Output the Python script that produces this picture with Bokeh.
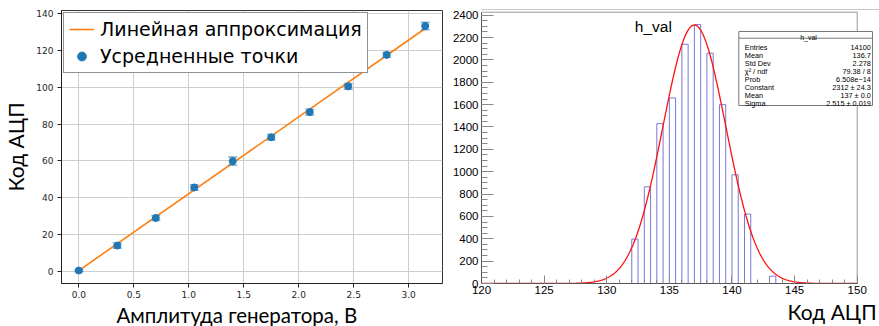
import numpy as np
from bokeh.plotting import figure
from bokeh.models import Range1d, FixedTicker, Legend, LegendItem, Label, Title
from bokeh.layouts import row
from bokeh.embed import file_html
from bokeh.resources import INLINE

# ---------------- data: left panel (calibration) ----------------
amplitude = [0.0, 0.35, 0.70, 1.05, 1.40, 1.75, 2.10, 2.45, 2.80, 3.15]
adc_mean = [0.3, 13.9, 28.9, 45.5, 59.8, 72.8, 86.5, 100.5, 117.6, 133.3]
adc_err = [0.6, 1.4, 1.3, 1.5, 2.2, 1.5, 1.5, 1.5, 1.3, 2.0]
fit_slope = 41.8
fit_intercept = 0.3
left_x_ticks = [0.0, 0.5, 1.0, 1.5, 2.0, 2.5, 3.0]
left_x_labels = ["0.0", "0.5", "1.0", "1.5", "2.0", "2.5", "3.0"]
left_y_ticks = [0, 20, 40, 60, 80, 100, 120, 140]

# ---------------- data: right panel (histogram h_val) ----------------
bin_left = [132, 133, 134, 135, 136, 137, 138, 139, 140, 141, 143]
bin_counts = [397, 865, 1430, 1660, 2140, 2316, 2060, 1600, 972, 621, 66]
bin_width = 0.5
gaus_constant = 2312.0
gaus_mean = 137.0
gaus_sigma = 2.515
right_x_ticks = [120, 125, 130, 135, 140, 145, 150]
right_y_ticks = [0, 200, 400, 600, 800, 1000, 1200, 1400, 1600, 1800, 2000, 2200, 2400]
stats_names = ["Entries", "Mean", "Std Dev", "\u03c7\u00b2 / ndf", "Prob", "Constant", "Mean", "Sigma"]
stats_values = ["14100", "136.7", "2.278", "79.38 / 8", "6.508e\u221214",
                "2312 \u00b1 24.3", "137 \u00b1 0.0", "2.515 \u00b1 0.019"]

# ---------------- left figure ----------------
X0, X1 = -0.1575, 3.3075
Y0, Y1 = -6.75, 141.75

p1 = figure(width=443, height=326, x_range=Range1d(X0, X1), y_range=Range1d(Y0, Y1),
            output_backend="svg", toolbar_location=None, title=None,
            min_border_left=56, min_border_right=1, min_border_top=10, min_border_bottom=42)
p1.frame_align = False
p1.background_fill_color = "white"
p1.border_fill_color = "white"
p1.outline_line_color = "#333333"
p1.outline_line_width = 1

for ax in (p1.xaxis[0], p1.yaxis[0]):
    ax.major_tick_out = 4
    ax.major_tick_in = 0
    ax.minor_tick_out = 0
    ax.minor_tick_in = 0
    ax.major_label_standoff = 4
    ax.major_label_text_font = "DejaVu Sans"
    ax.major_label_text_font_size = "9px"
    ax.major_label_text_color = "#262626"
    ax.axis_line_color = "#222222"
    ax.major_tick_line_color = "#222222"
p1.xaxis[0].major_label_standoff = 3
p1.xaxis[0].ticker = FixedTicker(ticks=left_x_ticks)
p1.xaxis[0].major_label_overrides = {t: s for t, s in zip(left_x_ticks, left_x_labels)}
p1.yaxis[0].ticker = FixedTicker(ticks=left_y_ticks)
p1.yaxis[0].axis_label = "Код АЦП"
p1.yaxis[0].axis_label_standoff = 5
p1.yaxis[0].axis_label_text_font = "Lato"
p1.yaxis[0].axis_label_text_font_size = "21px"
p1.yaxis[0].axis_label_text_font_style = "normal"
p1.yaxis[0].axis_label_text_color = "black"
p1.grid.grid_line_color = "#cdcdcd"
p1.grid.grid_line_width = 1

fit_x = [amplitude[0], amplitude[-1]]
fit_y = [fit_intercept + fit_slope * v for v in fit_x]
fit_r = p1.line(fit_x, fit_y, line_color="#ff7f0e", line_width=1.6)

lo = [m - e for m, e in zip(adc_mean, adc_err)]
hi = [m + e for m, e in zip(adc_mean, adc_err)]
p1.segment(x0=amplitude, y0=lo, x1=amplitude, y1=hi, line_color="#1f77b4",
           line_alpha=0.55, line_width=1.6)
p1.scatter(amplitude + amplitude, lo + hi, marker="dash", size=9,
           line_color="#1f77b4", line_alpha=0.55, line_width=1.6)
pts_r = p1.scatter(amplitude, adc_mean, marker="circle", size=7,
                   fill_color="#1f77b4", line_color="#1f77b4")

legend = Legend(items=[LegendItem(label="Линейная аппроксимация", renderers=[fit_r]),
                       LegendItem(label="Усредненные точки", renderers=[pts_r])],
                location="top_left", margin=2, padding=5, spacing=5,
                glyph_width=25, glyph_height=22, label_height=22, label_standoff=6,
                label_text_font="DejaVu Sans", label_text_font_size="19px",
                label_text_color="black",
                border_line_color="#222222", border_line_width=1,
                background_fill_color="white", background_fill_alpha=1.0)
p1.add_layout(legend)

p1.add_layout(Title(text="Амплитуда генератора, В", align="left", offset=55,
                    standoff=0, text_font="Lato", text_font_size="20.5px",
                    text_font_style="normal", text_color="black"), "below")

# ---------------- right figure ----------------
def rx(px):
    return 120 + (px - 481) * 30.0 / 375.7


def ry(py):
    return (283 - py) * 2400.0 / 268.3


X_END = rx(879)
Y_END = ry(0)
Y_TOP = ry(11.7)

p2 = figure(width=436, height=326, x_range=Range1d(120, X_END), y_range=Range1d(0, Y_END),
            output_backend="svg", toolbar_location=None, title=None,
            min_border_left=38, min_border_right=0, min_border_top=0, min_border_bottom=43)
p2.frame_align = False
p2.background_fill_color = "white"
p2.border_fill_color = "white"
p2.outline_line_color = None
p2.grid.visible = False

xa = p2.xaxis[0]
xa.ticker = FixedTicker(ticks=right_x_ticks, minor_ticks=list(range(120, 151)))
xa.bounds = (120, 150)
xa.major_tick_in = 8
xa.major_tick_out = 0
xa.minor_tick_in = 4
xa.minor_tick_out = 0
xa.major_label_standoff = 2
ya = p2.yaxis[0]
ya.ticker = FixedTicker(ticks=right_y_ticks, minor_ticks=list(range(0, 2401, 50)))
ya.bounds = (0, Y_TOP)
ya.major_tick_in = 12
ya.major_tick_out = 0
ya.minor_tick_in = 6
ya.minor_tick_out = 0
ya.major_label_standoff = 3
for ax in (xa, ya):
    ax.major_label_text_font = "Liberation Sans"
    ax.major_label_text_font_size = "11.5px"
    ax.major_label_text_color = "black"
    ax.axis_line_color = "#555555"
    ax.major_tick_line_color = "#888888"
    ax.minor_tick_line_color = "#888888"

bin_right = [b + bin_width for b in bin_left]
p2.quad(left=bin_left, right=bin_right, bottom=0, top=bin_counts,
        fill_color=None, line_color="#7878d6", line_width=1)

gx = np.linspace(120, 150, 600)
gy = gaus_constant * np.exp(-0.5 * ((gx - gaus_mean) / gaus_sigma) ** 2)
p2.line(gx, gy, line_color="#ff1010", line_width=1.3)

# frame top / right, and canvas border line above
p2.segment(x0=[120, 150], y0=[Y_TOP, 0], x1=[150, 150], y1=[Y_TOP, Y_TOP],
           line_color="#999999", line_width=1)
p2.segment(x0=[120], y0=[ry(9)], x1=[X_END], y1=[ry(9)],
           line_color="#c8c8c8", line_width=1)

p2.add_layout(Label(x=rx(634.3), y=ry(26), text="h_val", text_align="left",
                    text_baseline="alphabetic", text_font="Liberation Sans",
                    text_font_size="15.5px", text_color="black"))

# stats box
p2.quad(left=[rx(738.3)], right=[rx(872)], top=[ry(31)], bottom=[ry(105)],
        fill_color="white", line_color="#777777", line_width=1)
p2.segment(x0=[rx(738.3)], y0=[ry(37.7)], x1=[rx(872)], y1=[ry(37.7)],
           line_color="#777777", line_width=1)
p2.add_layout(Label(x=rx(808), y=ry(36.5), text="h_val", text_align="center",
                    text_baseline="alphabetic", text_font="Liberation Sans",
                    text_font_size="7px", text_color="black"))
for i, (nm, vl) in enumerate(zip(stats_names, stats_values)):
    yb = ry(46.5 + 8.1 * i)
    p2.add_layout(Label(x=rx(744.3), y=yb, text=nm, text_align="left",
                        text_baseline="alphabetic", text_font="Liberation Sans",
                        text_font_size="7.3px", text_color="black"))
    p2.add_layout(Label(x=rx(870.3), y=yb, text=vl, text_align="right",
                        text_baseline="alphabetic", text_font="Liberation Sans",
                        text_font_size="7.3px", text_color="black"))

p2.add_layout(Title(text="Код АЦП", align="left", offset=306, standoff=0,
                    text_font="Lato", text_font_size="21px",
                    text_font_style="normal", text_color="black"), "below")

layout = row(p1, p2)
open("out.html", "w").write(file_html(layout, INLINE))
